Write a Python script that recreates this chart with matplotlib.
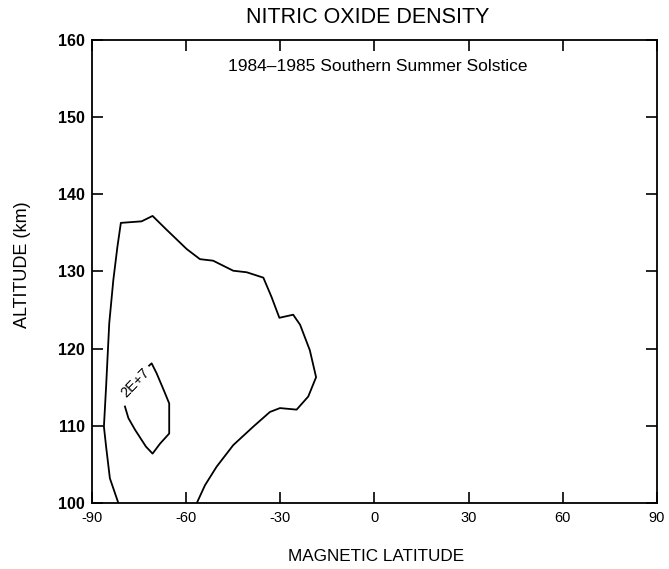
import matplotlib
matplotlib.use("Agg")
import matplotlib.pyplot as plt

plt.rcParams['font.family'] = ['Liberation Sans', 'DejaVu Sans']

# Outer contour (open, meets bottom boundary at both ends)
outer_lat = [-81.6, -84.3, -85.5, -86.2, -85.5, -84.5, -83.2, -81.9, -80.8,
             -74.2, -70.7, -66.2, -59.8, -55.6, -51.4, -45.0, -40.7, -35.4,
             -32.8, -30.3, -25.9, -23.7, -20.6, -18.6, -21.1, -24.8, -30.1,
             -33.3, -38.6, -45.0, -50.3, -54.0, -56.6]
outer_alt = [100.0, 103.2, 107.3, 109.9, 115.1, 123.3, 128.9, 133.2, 136.3,
             136.5, 137.2, 135.4, 132.9, 131.6, 131.4, 130.1, 129.9, 129.2,
             126.7, 124.0, 124.4, 123.1, 119.8, 116.3, 113.8, 112.1, 112.3,
             111.8, 109.9, 107.5, 104.7, 102.3, 100.0]

# Inner contour 2E+7 (gap where the label sits)
inner_lat = [-71.8, -71.0, -69.4, -66.7, -65.4, -65.4, -68.3, -70.7, -72.8,
             -76.3, -78.4, -79.5]
inner_alt = [117.8, 118.1, 116.8, 114.2, 112.9, 109.0, 107.7, 106.4, 107.3,
             109.5, 111.0, 112.5]
inner_label = "2E+7"
label_lat, label_alt = -76.2, 115.6

x_ticks = [-90, -60, -30, 0, 30, 60, 90]
x_labels = ["-90", "-60", "-30", "0", "30", "60", "90"]
y_ticks = [100, 110, 120, 130, 140, 150, 160]

fig = plt.figure(figsize=(6.69, 5.69), dpi=100)
ax = fig.add_axes([0.1375, 0.116, 0.8445, 0.8137])

ax.plot(outer_lat, outer_alt, color='black', lw=1.3)
ax.plot(inner_lat, inner_alt, color='black', lw=1.3)
ax.text(label_lat, label_alt, inner_label, rotation=46, ha='center', va='center',
        fontsize=10.5, rotation_mode='anchor')

ax.set_xlim(-90, 90)
ax.set_ylim(100, 160)
ax.set_xticks(x_ticks)
ax.set_xticklabels(x_labels)
ax.set_yticks(y_ticks)
ax.tick_params(direction='in', length=8, width=1.2, top=True, right=True,
               labelsize=10.5)
ax.tick_params(axis='x', pad=6)
ax.tick_params(axis='y', pad=5, labelsize=11.5)
for lab in ax.get_yticklabels():
    lab.set_fontweight('bold')
for s in ax.spines.values():
    s.set_linewidth(1.3)

ax.set_xlabel("MAGNETIC LATITUDE", fontsize=12.3)
ax.xaxis.set_label_coords(0.502, -0.1)
ax.set_ylabel("ALTITUDE (km)", fontsize=13)
ax.yaxis.set_label_coords(-0.108, 0.515)
fig.text(0.549, 0.97, "NITRIC OXIDE DENSITY", ha='center', va='center', fontsize=15.5)
ax.text(0.505, 0.943, "1984\u20131985 Southern Summer Solstice", transform=ax.transAxes,
        ha='center', va='center', fontsize=12.5)

fig.savefig("out.png", dpi=100)
